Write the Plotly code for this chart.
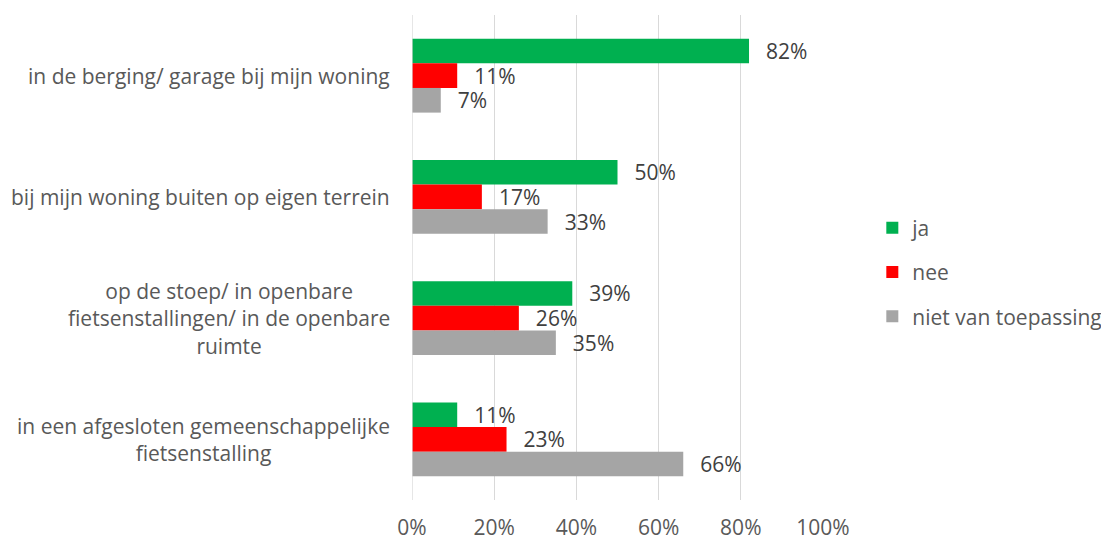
import plotly.graph_objects as go

categories = [
    "in de berging/ garage bij mijn woning",
    "bij mijn woning buiten op eigen terrein",
    "op de stoep/ in openbare<br>fietsenstallingen/ in de openbare<br>ruimte",
    "in een afgesloten gemeenschappelijke<br>fietsenstalling",
]
series_names = ["ja", "nee", "niet van toepassing"]
ja = [0.82, 0.50, 0.39, 0.11]
nee = [0.11, 0.17, 0.26, 0.23]
niet_van_toepassing = [0.07, 0.33, 0.35, 0.66]
colors = ["#00B050", "#FF0000", "#A5A5A5"]
x_ticks = [0, 0.2, 0.4, 0.6, 0.8, 1.0]
x_tick_labels = ["0%", "20%", "40%", "60%", "80%", "100%"]

FONT = "Open Sans"
SIZE = 21
TEXT_GREY = "#595959"

fig = go.Figure()
for name, vals, col in zip(series_names, [ja, nee, niet_van_toepassing], colors):
    fig.add_trace(go.Bar(
        y=list(range(len(categories))),
        x=vals,
        name=name,
        orientation="h",
        marker=dict(color=col, line=dict(width=0)),
        text=[f"\u2002\u2006{round(v * 100)}%" for v in vals],
        textposition="outside",
        constraintext="none",
        textfont=dict(family=FONT, size=SIZE, color="#404040"),
        cliponaxis=False,
        legendgroup=name,
    ))

# Category labels, centred line by line, right edge next to the plot
for i, cat in enumerate(categories):
    fig.add_annotation(
        x=0, xref="paper", xanchor="right", xshift=-20,
        y=i, yref="y", yanchor="middle",
        text=cat, showarrow=False, align="center",
        font=dict(family=FONT, size=SIZE, color=TEXT_GREY),
    )

fig.update_layout(
    width=1101, height=540,
    margin=dict(l=412, r=278, t=15, b=40, autoexpand=False),
    paper_bgcolor="white", plot_bgcolor="white",
    barmode="group", bargap=0.39, bargroupgap=0,
    font=dict(family=FONT, size=SIZE, color=TEXT_GREY),
    legend=dict(
        x=1.12, xanchor="left", y=0.47, yanchor="middle",
        traceorder="grouped", tracegroupgap=14,
        font=dict(family=FONT, size=SIZE, color=TEXT_GREY),
        itemwidth=30,
    ),
    xaxis=dict(
        range=[0, 1.0], tickvals=x_ticks, ticktext=x_tick_labels,
        showgrid=True, gridcolor="#D9D9D9", gridwidth=1.3,
        zeroline=False, showline=False, automargin=False,
        ticklabelstandoff=13,
        tickfont=dict(family=FONT, size=SIZE, color=TEXT_GREY),
    ),
    yaxis=dict(
        range=[3.5, -0.5], showticklabels=False, showgrid=False,
        zeroline=False, showline=False, automargin=False,
    ),
)
fig.add_shape(type="line", xref="x", yref="paper", x0=0, x1=0, y0=0, y1=1,
              line=dict(color="#D9D9D9", width=1.3))

fig.write_html("out.html")
